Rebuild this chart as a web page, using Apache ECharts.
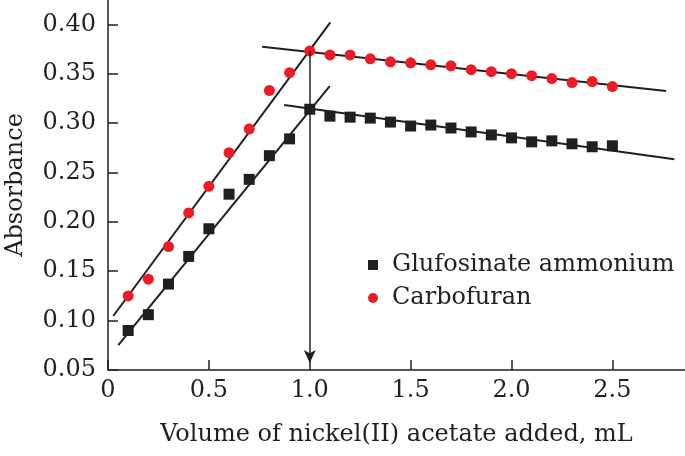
<!DOCTYPE html>
<html><head><meta charset="utf-8">
<script src="https://cdn.jsdelivr.net/npm/echarts@6/dist/echarts.min.js"></script>
<style>html,body{margin:0;padding:0;background:#fff}#c{width:685px;height:456px}</style>
</head><body><div id="c"></div>
<script>
// Data
const xGluc = [0.1,0.2,0.3,0.4,0.5,0.6,0.7,0.8,0.9,1.0,1.1,1.2,1.3,1.4,1.5,1.6,1.7,1.8,1.9,2.0,2.1,2.2,2.3,2.4,2.5];
const yGluc = [0.090,0.106,0.137,0.165,0.193,0.228,0.243,0.267,0.284,0.314,0.307,0.306,0.305,0.301,0.297,0.298,0.295,0.291,0.288,0.285,0.281,0.282,0.279,0.276,0.277];
const xCarb = [0.1,0.2,0.3,0.4,0.5,0.6,0.7,0.8,0.9,1.0,1.1,1.2,1.3,1.4,1.5,1.6,1.7,1.8,1.9,2.0,2.1,2.2,2.3,2.4,2.5];
const yCarb = [0.125,0.142,0.175,0.209,0.236,0.270,0.294,0.333,0.351,0.373,0.369,0.369,0.365,0.362,0.361,0.359,0.358,0.354,0.352,0.350,0.348,0.345,0.341,0.342,0.337];
// fitted lines: [x, y] endpoints
const carbRise = [[0.026,0.1047],[1.102,0.402]];
const carbFall = [[0.764,0.3772],[2.766,0.3324]];
const glucRise = [[0.051,0.0753],[1.099,0.3374]];
const glucFall = [[0.873,0.3182],[2.807,0.2633]];
const arrowX = 1.0, arrowFrom = 0.373, arrowTo = 0.057;
const seriesNames = ['Glufosinate ammonium','Carbofuran'];
const xTitle = 'Volume of nickel(II) acetate added, mL';
const yTitle = 'Absorbance';

const BLACK = '#231f20', RED = '#ed1c24';
const font = 'DejaVu Serif';
const FS = 24;
const zip = (xs, ys) => xs.map((x,i)=>[x, ys[i]]);
const fitLine = (d) => ({type:'line', data:d, symbol:'none', silent:true, lineStyle:{color:BLACK,width:2}, z:2});

const chart = echarts.init(document.getElementById('c'), null, {renderer:'canvas'});
chart.setOption({
  animation:false,
  backgroundColor:'#fff',
  grid:{left:108, right:0, top:0, bottom:86, outerBoundsMode:'none', containLabel:false},
  legend:{
    data:seriesNames, orient:'vertical', left:363, top:248, itemWidth:10, itemHeight:10, itemGap:9,
    textStyle:{fontFamily:font, fontSize:FS, color:BLACK, padding:[0,0,0,9]}
  },
  xAxis:{
    type:'value', min:0, max:2.86, interval:0.5,
    name:xTitle, nameLocation:'middle', nameGap:53,
    nameTextStyle:{fontFamily:font, fontSize:FS, color:BLACK},
    axisLine:{lineStyle:{color:BLACK,width:1.5}},
    axisTick:{inside:true, length:10, lineStyle:{color:BLACK,width:1.5}},
    axisLabel:{fontFamily:font, fontSize:FS, color:BLACK, margin:9, showMaxLabel:false,
      formatter:v=> v===0 ? '0' : v.toFixed(1)},
    splitLine:{show:false}
  },
  yAxis:{
    type:'value', min:0.05, max:0.4246, interval:0.05,
    name:yTitle, nameLocation:'middle', nameGap:80,
    nameTextStyle:{fontFamily:font, fontSize:FS, color:BLACK},
    axisLine:{lineStyle:{color:BLACK,width:1.5}},
    axisTick:{inside:true, length:10, lineStyle:{color:BLACK,width:1.5}},
    axisLabel:{fontFamily:font, fontSize:FS, color:BLACK, margin:12, showMaxLabel:false,
      formatter:v=> v.toFixed(2)},
    splitLine:{show:false}
  },
  series:[
    fitLine(carbRise), fitLine(carbFall), fitLine(glucRise), fitLine(glucFall),
    {
      type:'line', data:[], silent:true,
      markLine:{silent:true, symbol:['none','arrow'], symbolSize:[9,13], label:{show:false},
        lineStyle:{color:BLACK, width:1.5, type:'solid'},
        data:[[{coord:[arrowX, arrowFrom]},{coord:[arrowX, arrowTo]}]]}
    },
    {name:seriesNames[0], type:'scatter', data:zip(xGluc,yGluc), symbol:'rect', symbolSize:11,
      itemStyle:{color:BLACK, opacity:1}, z:3},
    {name:seriesNames[1], type:'scatter', data:zip(xCarb,yCarb), symbol:'circle', symbolSize:11,
      itemStyle:{color:RED, opacity:1}, z:3}
  ]
});
</script></body></html>
